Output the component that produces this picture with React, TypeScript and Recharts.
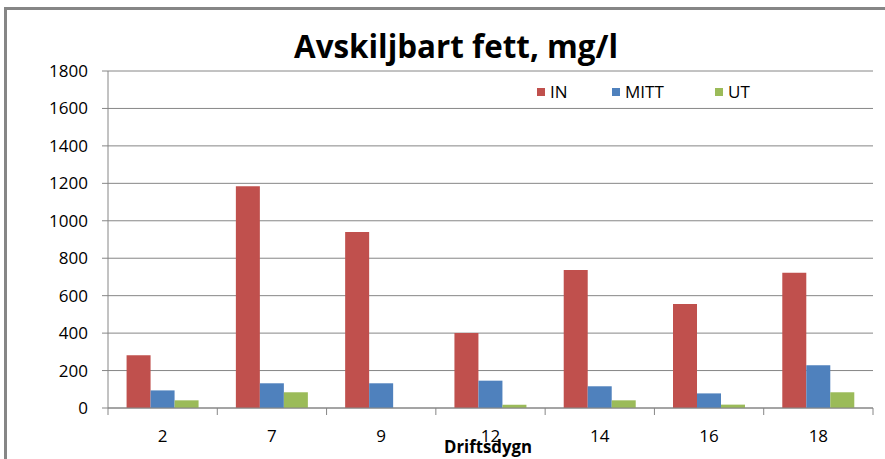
import React from 'react';
import { BarChart, Bar, XAxis, YAxis, CartesianGrid } from 'recharts';

const days = ['2', '7', '9', '12', '14', '16', '18'];
const inValues = [282, 1185, 940, 400, 737, 556, 723];
const mittValues = [94, 132, 132, 146, 116, 78, 228];
const utValues = [41, 84, 0, 18, 41, 18, 84];
const yTicks = [0, 200, 400, 600, 800, 1000, 1200, 1400, 1600, 1800];

const SERIES = [
    { key: 'IN', color: '#C0504D' },
    { key: 'MITT', color: '#4F81BD' },
    { key: 'UT', color: '#9BBB59' },
];

const W = 885;
const H = 459;
const XAXIS_H = 51;
const AXIS_Y = H - XAXIS_H;
const GRID = '#868686';
const FONT = '"Open Sans", "Liberation Sans", sans-serif';

const data = days.map((d, i) => ({
    day: d,
    IN: inValues[i],
    MITT: mittValues[i],
    UT: utValues[i],
}));

// ticks sit on the category borders, label in the middle
function DayTick(props: any) {
    const { x, payload, index } = props;
    const half = payload?.offset ?? 54.6;
    const last = index === days.length - 1;
    return (
        <g>
            <line x1={x - half} x2={x - half} y1={AXIS_Y} y2={AXIS_Y + 7} stroke={GRID} />
            {last && <line x1={x + half} x2={x + half} y1={AXIS_Y} y2={AXIS_Y + 7} stroke={GRID} />}
            <text x={x} y={AXIS_Y + 34} textAnchor="middle" fontSize={17} fill="#000" fontFamily={FONT}>
                {payload.value}
            </text>
        </g>
    );
}

// legend drawn outside the chart so it doesn't eat plot space
function LegendBox() {
    const widths = [75, 103, 60];
    return (
        <div
            style={{
                position: 'absolute',
                left: 537,
                top: 80,
                display: 'flex',
                fontFamily: FONT,
                fontSize: 17,
                color: '#000',
            }}
        >
            {SERIES.map((s, i) => (
                <div key={s.key} style={{ width: widths[i], display: 'flex', alignItems: 'center' }}>
                    <span style={{ width: 8, height: 8, background: s.color, marginRight: 5, display: 'inline-block' }} />
                    <span>{s.key}</span>
                </div>
            ))}
        </div>
    );
}

export default function App() {
    return (
        <div style={{ position: 'absolute', left: 0, top: 0, width: W, height: H, overflow: 'hidden', background: '#fff' }}>
            <div
                style={{
                    position: 'absolute',
                    left: 4,
                    top: 7,
                    width: W,
                    height: H,
                    borderTop: '3px solid #868686',
                    borderLeft: '3px solid #868686',
                }}
            />
            <div style={{ position: 'absolute', left: 0, top: 0 }}>
                <BarChart
                    width={W}
                    height={H}
                    data={data}
                    margin={{ top: 71, right: 12, bottom: 0, left: 0 }}
                    barCategoryGap="17%"
                    barGap={0}
                >
                    <CartesianGrid vertical={false} stroke={GRID} strokeDasharray="" />
                    <XAxis
                        dataKey="day"
                        height={XAXIS_H}
                        axisLine={{ stroke: GRID }}
                        tickLine={false}
                        tick={<DayTick />}
                        interval={0}
                    />
                    <YAxis
                        width={108}
                        domain={[0, 1800]}
                        ticks={yTicks}
                        axisLine={{ stroke: GRID }}
                        tickLine={{ stroke: GRID }}
                        tickSize={6}
                        tickMargin={14}
                        tick={{ fontSize: 17, fill: '#000', fontFamily: FONT }}
                    />
                    {SERIES.map((s) => (
                        <Bar key={s.key} dataKey={s.key} fill={s.color} isAnimationActive={false} />
                    ))}
                </BarChart>
            </div>
            <LegendBox />
            <svg width={W} height={H} style={{ position: 'absolute', left: 0, top: 0, pointerEvents: 'none' }}>
                <text
                    x={456}
                    y={58}
                    textAnchor="middle"
                    fontSize={33}
                    fontWeight="bold"
                    fontFamily={FONT}
                    textLength={324}
                    lengthAdjust="spacingAndGlyphs"
                    fill="#000"
                >
                    Avskiljbart fett, mg/l
                </text>
                <text
                    x={488}
                    y={453}
                    textAnchor="middle"
                    fontSize={17}
                    fontWeight="bold"
                    fontFamily={FONT}
                    textLength={88}
                    lengthAdjust="spacingAndGlyphs"
                    fill="#000"
                >
                    Driftsdygn
                </text>
            </svg>
        </div>
    );
}
